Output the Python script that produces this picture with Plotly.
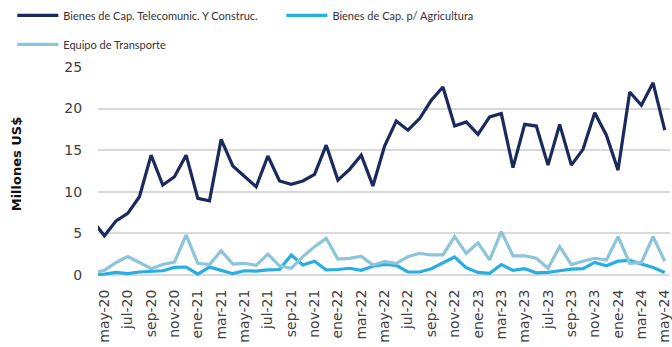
import plotly.graph_objects as go

# Meses (abr-20 a may-24); el primer mes queda recortado en el borde izquierdo
meses = [
    "abr-20", "may-20", "jun-20", "jul-20", "ago-20", "sep-20", "oct-20", "nov-20", "dic-20",
    "ene-21", "feb-21", "mar-21", "abr-21", "may-21", "jun-21", "jul-21", "ago-21", "sep-21", "oct-21", "nov-21", "dic-21",
    "ene-22", "feb-22", "mar-22", "abr-22", "may-22", "jun-22", "jul-22", "ago-22", "sep-22", "oct-22", "nov-22", "dic-22",
    "ene-23", "feb-23", "mar-23", "abr-23", "may-23", "jun-23", "jul-23", "ago-23", "sep-23", "oct-23", "nov-23", "dic-23",
    "ene-24", "feb-24", "mar-24", "abr-24", "may-24",
]

# Millones de US$
telecom_construc = [
    6.5, 4.7, 6.5, 7.4, 9.4, 14.4, 10.8, 11.8, 14.4,
    9.2, 8.9, 16.3, 13.1, 11.8, 10.6, 14.3, 11.3, 10.9, 11.3, 12.1, 15.6,
    11.4, 12.7, 14.4, 10.7, 15.5, 18.5, 17.4, 18.8, 21.0, 22.6, 17.9, 18.4,
    16.9, 19.0, 19.4, 12.9, 18.1, 17.9, 13.2, 18.1, 13.2, 15.1, 19.5, 16.8,
    12.6, 22.0, 20.4, 23.1, 17.4,
]
agricultura = [
    0.05, 0.1, 0.3, 0.15, 0.35, 0.45, 0.5, 0.9, 0.95,
    0.1, 0.95, 0.55, 0.15, 0.5, 0.45, 0.6, 0.65, 2.4, 1.2, 1.65, 0.6,
    0.65, 0.8, 0.55, 1.05, 1.25, 1.15, 0.35, 0.35, 0.75, 1.5, 2.15, 0.85,
    0.3, 0.2, 1.25, 0.55, 0.75, 0.25, 0.3, 0.5, 0.7, 0.75, 1.5, 1.1,
    1.65, 1.75, 1.35, 0.9, 0.3,
]
transporte = [
    0.2, 0.55, 1.5, 2.2, 1.5, 0.75, 1.25, 1.55, 4.8,
    1.4, 1.25, 2.9, 1.3, 1.4, 1.15, 2.5, 1.1, 0.8, 2.2, 3.4, 4.4,
    1.9, 2.0, 2.25, 1.2, 1.6, 1.4, 2.2, 2.6, 2.4, 2.4, 4.6, 2.6,
    3.85, 1.8, 5.2, 2.3, 2.3, 2.0, 0.8, 3.4, 1.25, 1.65, 2.0, 1.8,
    4.6, 1.4, 1.5, 4.6, 1.65,
]

nombres = [
    "Bienes de Cap. Telecomunic. Y Construc.",
    "Bienes de Cap. p/ Agricultura",
    "Equipo de Transporte",
]
colores = ["#1b2a5c", "#29aee2", "#8cc4da"]
series = [telecom_construc, agricultura, transporte]
leyendas = ["legend", "legend2", "legend3"]

etiquetas_x = meses[1::2]
valores_y = [0, 5, 10, 15, 20, 25]

fig = go.Figure()
for nombre, color, valores, ley in zip(nombres, colores, series, leyendas):
    fig.add_trace(go.Scatter(
        x=meses, y=valores, name=nombre, mode="lines",
        line=dict(color=color, width=3.2),
        legend=ley,
    ))

fuente_leyenda = dict(family="Lato", size=11, color="#333333")
comun_leyenda = dict(
    orientation="h", xanchor="left", yanchor="top",
    font=fuente_leyenda, itemwidth=41, bgcolor="rgba(0,0,0,0)",
)

fig.update_layout(
    width=672, height=347,
    margin=dict(l=98, r=0, t=67, b=70),
    paper_bgcolor="white", plot_bgcolor="white",
    showlegend=True,
    legend=dict(x=-0.1498, y=1.315, **comun_leyenda),
    legend2=dict(x=0.3206, y=1.315, **comun_leyenda),
    legend3=dict(x=-0.1498, y=1.177, **comun_leyenda),
    xaxis=dict(
        type="category",
        range=[0.45, 49.45],
        tickmode="array", tickvals=etiquetas_x, ticktext=etiquetas_x,
        tickangle=-90,
        tickfont=dict(family="DejaVu Sans", size=14, color="#404040"),
        ticks="outside", ticklen=6, tickcolor="rgba(0,0,0,0)",
        showgrid=False, showline=False, zeroline=False,
    ),
    yaxis=dict(
        range=[-0.25, 25],
        tickmode="array", tickvals=valores_y,
        tickfont=dict(family="DejaVu Sans", size=14, color="#404040"),
        ticks="outside", ticklen=12, tickcolor="rgba(0,0,0,0)",
        showgrid=True, gridcolor="#d9d9d9", gridwidth=1.6,
        zeroline=True, zerolinecolor="#d9d9d9", zerolinewidth=1.6,
        showline=False,
    ),
    annotations=[dict(
        text="<b>Millones US$</b>",
        xref="paper", yref="paper",
        x=(16 - 98) / 574, y=(277 - 164) / 210,
        xanchor="center", yanchor="middle",
        textangle=-90, showarrow=False,
        font=dict(family="DejaVu Sans", size=13, color="#111111"),
    )],
)

fig.write_html("out.html")
